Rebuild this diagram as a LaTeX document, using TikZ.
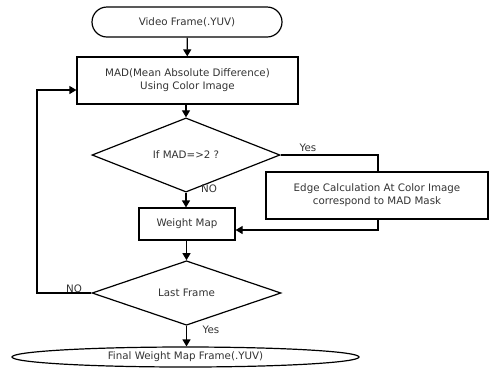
\documentclass[tikz,border=0pt]{standalone}
\usepackage{fontspec}
\setmainfont{DejaVu Sans}
\usetikzlibrary{shapes.geometric,shapes.misc,arrows.meta}
\begin{document}
\begin{tikzpicture}[x=1pt,y=-1pt,
  every node/.style={font=\fontsize{10.3}{13}\selectfont, text=black!80},
  box/.style={draw, line width=1.2pt, inner sep=0pt, align=center},
  dia/.style={draw, diamond, line width=1.2pt, inner sep=0pt, align=center},
  lbl/.style={inner sep=1pt},
  line/.style={line width=1.2pt},
  arr/.style={line width=1.2pt, -{Triangle[length=7pt,width=8pt]}}]
\useasboundingbox (0,0) rectangle (489,368);
\node[box, rounded rectangle, minimum width=190pt, minimum height=30pt] (start) at (187,22) {Video Frame(.YUV)};
\node[box, minimum width=221pt, minimum height=47pt] (mad) at (187.5,80.5) {MAD(Mean Absolute Difference)\\Using Color Image};
\node[dia, minimum width=188pt, minimum height=63pt] (d1) at (186,155) {If MAD=>2 ?};
\node[box, minimum width=222pt, minimum height=47pt] (edge) at (377,195.5) {Edge Calculation At Color Image\\correspond to MAD Mask};
\node[box, minimum width=96pt, minimum height=32pt] (wm) at (187,224) {Weight Map};
\node[dia, minimum width=189pt, minimum height=60pt] (d2) at (186.5,293) {Last Frame};
\node[box, ellipse, minimum width=347pt, minimum height=20pt] (final) at (185.5,357) {Final Weight Map Frame(.YUV)};
\coordinate (c1) at (378,155);
\coordinate (c2) at (378,230);
\coordinate (c3) at (37,293);
\coordinate (c4) at (37,90);
\draw[arr] (start) -- (mad);
\draw[arr] (mad.south -| d1.north) -- (d1.north);
\draw[line] (d1.east) -- (c1) -- (c1 |- edge.north);
\draw[arr] (c1 |- edge.south) -- (c2) -- (c2 -| wm.east);
\draw[arr] (d1.south) -- (d1.south |- wm.north);
\draw[arr] (wm.south -| d2.north) -- (d2.north);
\draw[arr] (d2.south) -- (d2.south |- final.north);
\draw[arr] (d2.west) -- (c3) -- (c4) -- (c4 -| mad.west);
\node[lbl] (yes1) at (308,148) {Yes};
\node[lbl] (no1) at (209,189) {NO};
\node[lbl] (no2) at (74,289) {NO};
\node[lbl] (yes2) at (211,330) {Yes};
\end{tikzpicture}
\end{document}
